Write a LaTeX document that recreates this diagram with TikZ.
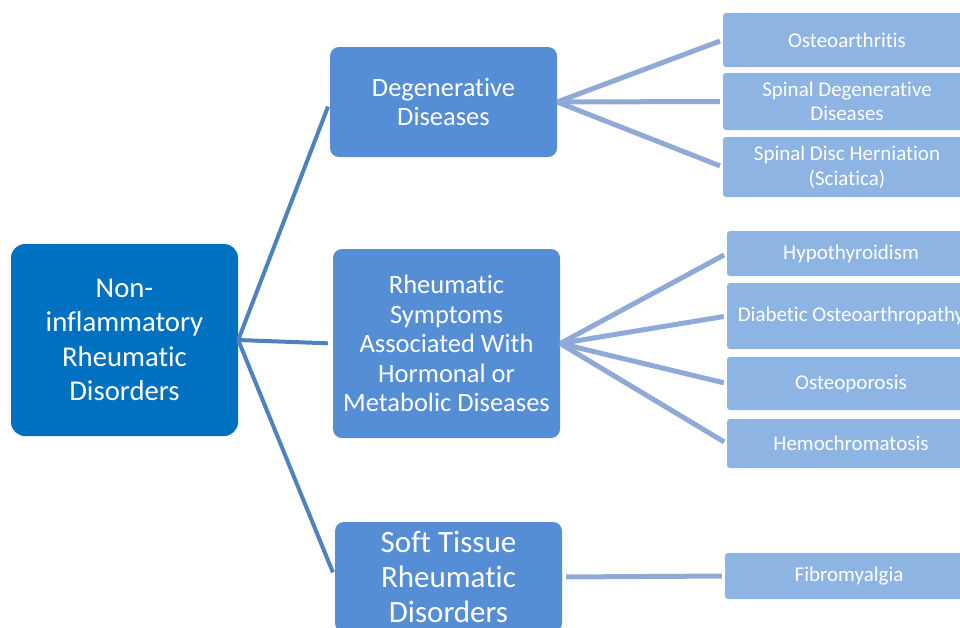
\documentclass[tikz,border=0pt]{standalone}
\usepackage{fontspec}
\setmainfont{Carlito}[Ligatures=NoCommon]
\usetikzlibrary{positioning}
\definecolor{rootblue}{RGB}{0,112,192}
\definecolor{midblue}{RGB}{85,142,213}
\definecolor{leafblue}{RGB}{142,180,227}
\definecolor{rootline}{RGB}{79,129,189}
\definecolor{leafline}{RGB}{143,170,214}
\tikzstyle{rootbox} = [fill=rootblue, text=white, rounded corners=14pt, minimum width=227pt, minimum height=192pt, align=center, inner sep=0pt, font=\fontsize{28.7}{34.5}\selectfont]
\tikzstyle{midbox} = [fill=midblue, text=white, rounded corners=9pt, minimum width=227pt, align=center, inner sep=0pt, font=\fontsize{26.5}{29.5}\selectfont]
\tikzstyle{leafbox} = [fill=leafblue, text=white, rounded corners=3pt, minimum width=248pt, align=center, inner sep=0pt, font=\fontsize{21}{24.5}\selectfont]
\tikzstyle{branch} = [rootline, line width=4pt, shorten >=5pt]
\tikzstyle{twig} = [leafline, line width=5pt, shorten >=3pt]

\begin{document}
\begin{tikzpicture}[x=1pt, y=-1pt]
    \useasboundingbox (0,0) rectangle (960,627);

    % Root
    \node[rootbox] (root) at (124.5,340) {Non-\\inflammatory\\Rheumatic\\Disorders};

    % Groups
    \node[midbox, minimum height=110pt] (deg) at (443.5,102) {Degenerative\\Diseases};
    \node[midbox, minimum height=189pt] (horm) at (446.5,343.5) {Rheumatic\\Symptoms\\Associated With\\Hormonal or\\Metabolic Diseases};
    \node[midbox, minimum height=110pt, font=\fontsize{31}{35}\selectfont] (soft) at (448.5,577) {Soft Tissue\\Rheumatic\\Disorders};

    % Leaves
    \node[leafbox, minimum height=54pt] (oa) at (847,40) {Osteoarthritis};
    \node[leafbox, minimum height=57pt] (sdd) at (847,101.5) {Spinal Degenerative\\Diseases};
    \node[leafbox, minimum height=60pt] (sdh) at (847,167) {Spinal Disc Herniation\\(Sciatica)};
    \node[leafbox, minimum height=45pt] (hypo) at (851,253.5) {Hypothyroidism};
    \node[leafbox, minimum height=66pt] (diab) at (851,316) {Diabetic Osteoarthropathy};
    \node[leafbox, minimum height=53pt] (osteo) at (851,383.5) {Osteoporosis};
    \node[leafbox, minimum height=49pt] (hemo) at (851,443.5) {Hemochromatosis};
    \node[leafbox, minimum height=46pt] (fibro) at (849,576) {Fibromyalgia};

    % Edges
    \draw[branch] (root.east) -- (deg.west);
    \draw[branch] (root.east) -- (horm.west);
    \draw[branch] (root.east) -- (soft.west);

    \draw[twig] (deg.east) -- (oa.west);
    \draw[twig] (deg.east) -- (sdd.west);
    \draw[twig] (deg.east) -- (sdh.west);

    \draw[twig] (horm.east) -- (hypo.west);
    \draw[twig] (horm.east) -- (diab.west);
    \draw[twig] (horm.east) -- (osteo.west);
    \draw[twig] (horm.east) -- (hemo.west);

    \draw[twig, shorten <=4pt] (soft.east) -- (fibro.west);
\end{tikzpicture}
\end{document}
